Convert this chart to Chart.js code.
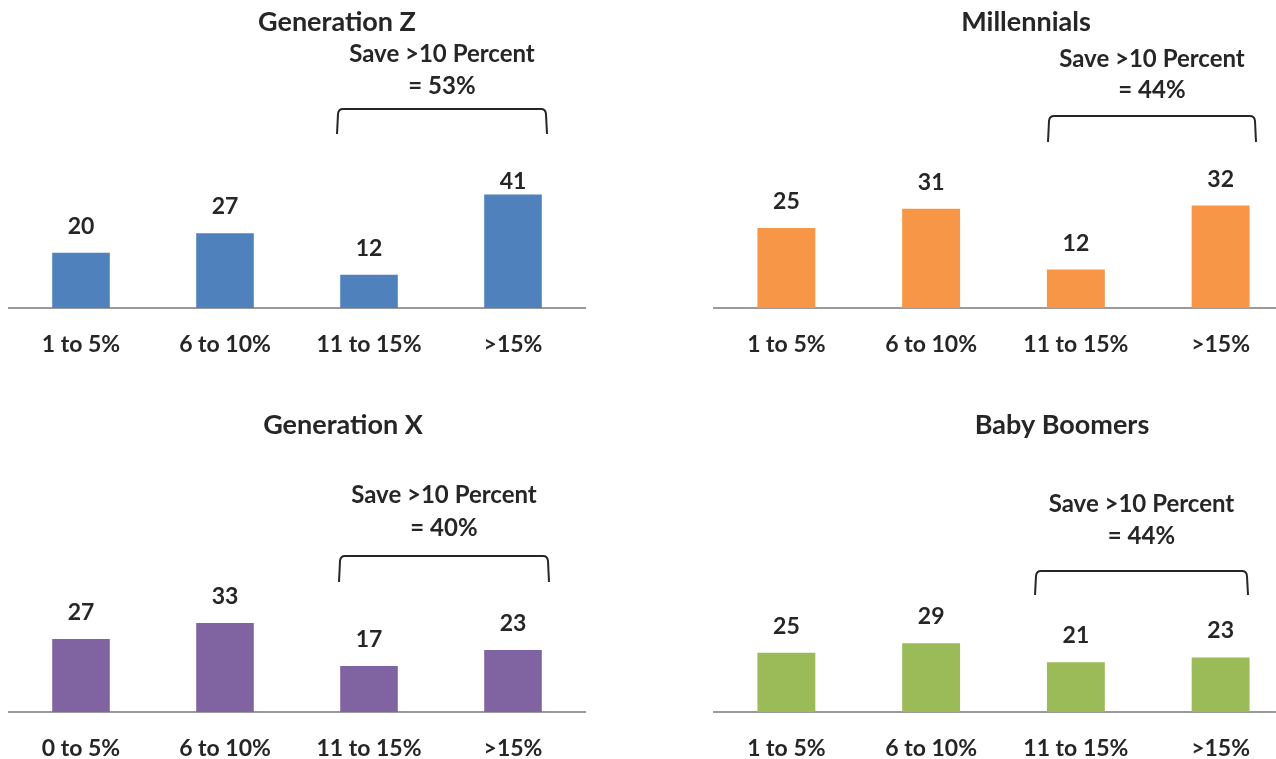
<!DOCTYPE html>
<html>
<head>
<meta charset="utf-8">
<script src="https://cdn.jsdelivr.net/npm/chart.js@4.4.1/dist/chart.umd.min.js"></script>
<style>
html,body{margin:0;padding:0;background:#fff;overflow:hidden;width:1276px;height:759px;position:relative;}
canvas{position:absolute;display:block;}
</style>
</head>
<body>
<canvas id="c0" width="640" height="380" style="left:0px;top:0px"></canvas>
<canvas id="c1" width="660" height="380" style="left:640px;top:0px"></canvas>
<canvas id="c2" width="640" height="380" style="left:0px;top:380px"></canvas>
<canvas id="c3" width="660" height="380" style="left:640px;top:380px"></canvas>
<script>
// ---- data ----
const categories = ['1 to 5%', '6 to 10%', '11 to 15%', '>15%'];
const categoriesGenX = ['0 to 5%', '6 to 10%', '11 to 15%', '>15%'];
const panelTitles = ['Generation Z', 'Millennials', 'Generation X', 'Baby Boomers'];
const genZ = [20, 27, 12, 41];
const millennials = [25, 31, 12, 32];
const genX = [27, 33, 17, 23];
const boomers = [25, 29, 21, 23];
const saveOver10 = [53, 44, 40, 44];
const bracketText = 'Save >10 Percent';

// ---- style ----
const FONT = 'Lato, "DejaVu Sans", sans-serif';
const TEXT = '#262626';

const panels = [
  {id:'c0', labels:categories, values:genZ, title:panelTitles[0], save:saveOver10[0], color:'#4f81bd',
   yMax:60, padTop:142, padLeft:9, padRight:55, axisH:72,
   titleX:337, titleY:31, br:{l:337, r:547, t:109, b:134}, saveY:62, eqY:94, lift:[27,27,27,14]},
  {id:'c1', labels:categories, values:millennials, title:panelTitles[1], save:saveOver10[1], color:'#f79646',
   yMax:50, padTop:148, padLeft:74, padRight:7, axisH:72,
   titleX:386, titleY:31, br:{l:408, r:616, t:116, b:142}, saveY:67, eqY:98, lift:[27,27,27,27]},
  {id:'c2', labels:categoriesGenX, values:genX, title:panelTitles[2], save:saveOver10[2], color:'#8064a2',
   yMax:60, padTop:170, padLeft:9, padRight:55, axisH:48,
   titleX:343, titleY:54, br:{l:339, r:549, t:176, b:202}, saveY:123, eqY:156, lift:[27,27,27,27]},
  {id:'c3', labels:categories, values:boomers, title:panelTitles[3], save:saveOver10[3], color:'#9bbb59',
   yMax:70, padTop:166, padLeft:74, padRight:7, axisH:48,
   titleX:422, titleY:54, br:{l:395, r:608, t:191, b:215}, saveY:132, eqY:164, lift:[27,27,27,27]}
];

const annot = {
  id: 'annot',
  afterDatasetsDraw(chart, args, o) {
    const ctx = chart.ctx;
    ctx.save();
    ctx.fillStyle = TEXT;
    ctx.textAlign = 'center';
    ctx.textBaseline = 'alphabetic';
    ctx.font = '700 23px ' + FONT;
    const meta = chart.getDatasetMeta(0);
    const data = chart.data.datasets[0].data;
    meta.data.forEach((bar, i) => {
      ctx.fillText(String(data[i]), bar.x, bar.y - o.lift[i] + 8);
    });
    ctx.font = '700 27px ' + FONT;
    ctx.fillText(o.title, o.titleX, o.titleY);
    ctx.font = '700 24px ' + FONT;
    const cx = (o.br.l + o.br.r) / 2;
    ctx.fillText(bracketText, cx, o.saveY);
    ctx.fillText('= ' + o.save + '%', cx, o.eqY);
    const b = o.br;
    ctx.strokeStyle = '#262626';
    ctx.lineWidth = 2;
    ctx.beginPath();
    ctx.moveTo(b.l, b.b);
    ctx.lineTo(b.l + 1, b.t + 5);
    ctx.quadraticCurveTo(b.l + 1.5, b.t, b.l + 6, b.t);
    ctx.lineTo(b.r - 6, b.t);
    ctx.quadraticCurveTo(b.r - 1.5, b.t, b.r - 1, b.t + 5);
    ctx.lineTo(b.r, b.b);
    ctx.stroke();
    ctx.restore();
  }
};

function build() {
  panels.forEach(p => {
    new Chart(document.getElementById(p.id), {
      type: 'bar',
      data: {
        labels: p.labels,
        datasets: [{
          data: p.values,
          backgroundColor: p.color,
          borderWidth: 0,
          categoryPercentage: 1.0,
          barPercentage: 0.4
        }]
      },
      options: {
        responsive: false,
        animation: false,
        devicePixelRatio: 1,
        layout: { padding: { top: p.padTop, left: p.padLeft, right: p.padRight, bottom: 0 } },
        plugins: {
          legend: { display: false },
          tooltip: { enabled: false },
          title: { display: false },
          annot: { title: p.title, titleX: p.titleX, titleY: p.titleY, br: p.br, save: p.save,
                   saveY: p.saveY, eqY: p.eqY, lift: p.lift }
        },
        scales: {
          x: {
            grid: { display: false, drawTicks: false },
            border: { display: true, color: '#9a9a9a', width: 2 },
            ticks: { color: TEXT, font: { family: FONT, size: 23, weight: '700' }, padding: 23,
                     maxRotation: 0, autoSkip: false },
            afterFit(scale) { scale.height = p.axisH; }
          },
          y: { display: false, min: 0, max: p.yMax }
        }
      },
      plugins: [annot]
    });
  });
}

if (document.fonts && document.fonts.load) {
  Promise.all([document.fonts.load('700 23px Lato'), document.fonts.load('700 27px Lato')])
    .then(build, build);
} else {
  build();
}
</script>
</body>
</html>
